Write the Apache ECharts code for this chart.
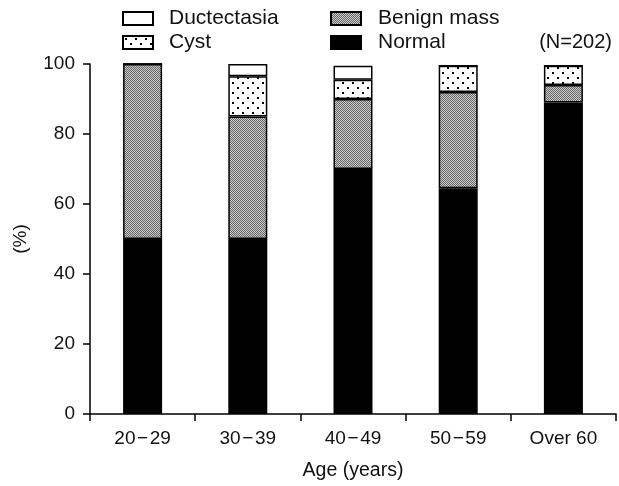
<!DOCTYPE html>
<html><head><meta charset="utf-8">
<script src="https://cdn.jsdelivr.net/npm/echarts@6/dist/echarts.min.js"></script>
<style>html,body{margin:0;padding:0;background:#fff}#c{width:619px;height:486px}</style>
</head><body><div id="c"></div>
<script>
var categories = ['20\u200a\u2212\u200a29', '30\u200a\u2212\u200a39', '40\u200a\u2212\u200a49', '50\u200a\u2212\u200a59', 'Over 60'];
var normal = [50, 50, 70, 64.5, 89];
var benign = [50, 35, 20, 27.5, 5];
var cyst = [0, 11.5, 5.5, 7.5, 5.5];
var ductectasia = [0, 3.5, 4, 0, 0];
var yTicks = [0, 20, 40, 60, 80, 100];

function makeBenign() {
  var c = document.createElement('canvas'); c.width = 4; c.height = 4;
  var g = c.getContext('2d');
  for (var y = 0; y < 4; y++) for (var x = 0; x < 4; x++) {
    g.fillStyle = ((x + y) % 2 === 0) ? '#666666' : '#cccccc';
    g.fillRect(x, y, 1, 1);
  }
  return c;
}
function makeCyst() {
  var c = document.createElement('canvas'); c.width = 10; c.height = 10;
  var g = c.getContext('2d');
  g.fillStyle = '#fff'; g.fillRect(0, 0, 10, 10);
  g.fillStyle = '#000';
  g.fillRect(2, 2, 2, 2);
  g.fillRect(7, 7, 2, 2);
  return c;
}
var benignPat = { image: makeBenign(), repeat: 'repeat' };
var cystPat = { image: makeCyst(), repeat: 'repeat' };

var font = 'Liberation Sans, Arial, sans-serif';
var chart = echarts.init(document.getElementById('c'), null, { renderer: 'canvas' });
var border = { borderColor: '#000', borderWidth: 1.5 };
function ser(name, data, color) {
  return {
    name: name, type: 'bar', stack: 'all', data: data, barWidth: 39,
    itemStyle: Object.assign({ color: color }, border),
    emphasis: { disabled: true }
  };
}
var legendText = { fontSize: 21, lineHeight: 21, color: '#111', fontFamily: font };
chart.setOption({
  animation: false,
  textStyle: { fontFamily: font },
  legend: [
    { data: ['Ductectasia', 'Cyst'], orient: 'vertical', left: 122, top: 8, icon: 'rect',
      itemWidth: 30, itemHeight: 13, itemGap: 3, padding: 0,
      textStyle: Object.assign({ padding: [0, 0, 0, 11] }, legendText) },
    { data: ['Benign mass', 'Normal'], orient: 'vertical', left: 330, top: 8, icon: 'rect',
      itemWidth: 30, itemHeight: 13, itemGap: 3, padding: 0,
      textStyle: Object.assign({ padding: [0, 0, 0, 12] }, legendText) }
  ],
  title: { text: '(N=202)', right: 7, top: 32, padding: 0,
    textStyle: { fontSize: 20, lineHeight: 20, fontWeight: 'normal', color: '#111', fontFamily: font } },
  grid: { left: 90, right: 3, top: 64, bottom: 72 },
  xAxis: {
    type: 'category', data: categories,
    axisLine: { lineStyle: { color: '#000', width: 1.5 } },
    axisTick: { show: true, length: 7, lineStyle: { color: '#000', width: 1.5 } },
    axisLabel: { fontSize: 19, color: '#111', margin: 15, fontFamily: font },
    name: 'Age (years)', nameLocation: 'middle', nameGap: 47,
    nameTextStyle: { fontSize: 19.5, color: '#111', fontFamily: font }
  },
  yAxis: {
    type: 'value', min: yTicks[0], max: yTicks[yTicks.length - 1], interval: 20,
    splitLine: { show: false },
    axisLine: { show: true, lineStyle: { color: '#000', width: 1.5 } },
    axisTick: { show: true, length: 7, lineStyle: { color: '#000', width: 1.5 } },
    axisLabel: { fontSize: 19, color: '#111', margin: 15, fontFamily: font },
    name: '(%)', nameLocation: 'middle', nameGap: 60, nameRotate: 90,
    nameTextStyle: { fontSize: 19, color: '#111', fontFamily: font }
  },
  series: [
    ser('Normal', normal, '#000'),
    ser('Benign mass', benign, benignPat),
    ser('Cyst', cyst, cystPat),
    ser('Ductectasia', ductectasia, '#fff')
  ]
});
</script></body></html>
